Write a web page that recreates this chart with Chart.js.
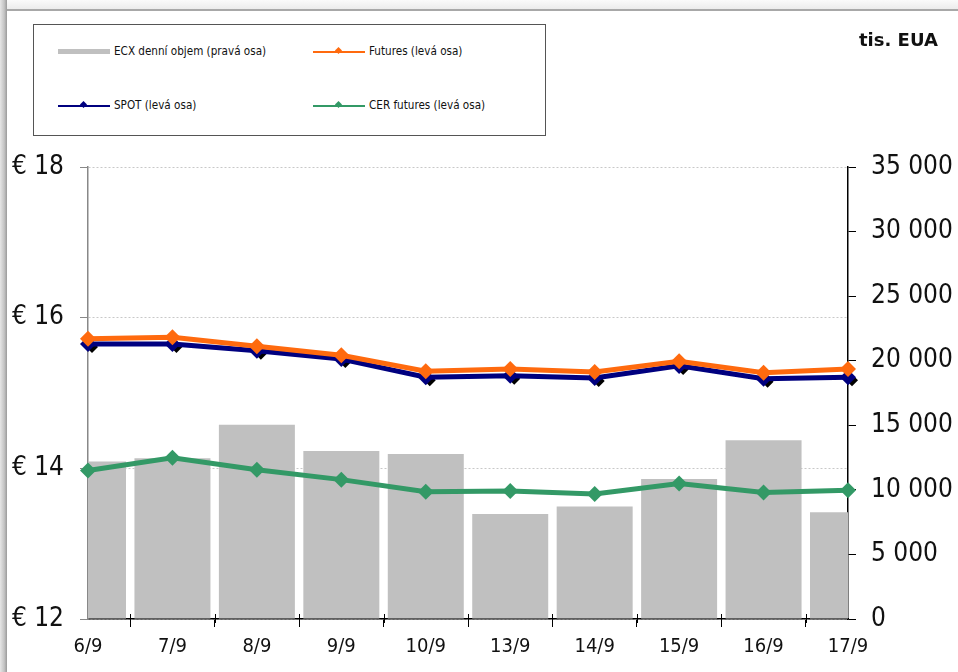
<!DOCTYPE html>
<html>
<head>
<meta charset="utf-8">
<script src="https://cdn.jsdelivr.net/npm/chart.js@4.4.0/dist/chart.umd.min.js"></script>
<style>
  html, body { margin: 0; padding: 0; background: #fff; }
  body { width: 958px; height: 672px; position: relative; overflow: hidden;
         font-family: "DejaVu Sans Condensed", "DejaVu Sans", sans-serif; }
  #frameL { position: absolute; left: 0; top: 0; width: 7px; height: 672px;
            background: linear-gradient(to right, #e6e6e6, #c4c4c4 60%, #9a9a9a); }
  #frameT { position: absolute; left: 0; top: 0; width: 958px; height: 9px;
            background: linear-gradient(to bottom, #fafafa, #ececec); border-bottom: 2px solid #a8a8a8; }
  #wrap { position: absolute; left: 0; top: 0; width: 958px; height: 672px; }
  #legend { position: absolute; left: 33px; top: 24px; width: 511px; height: 110px;
            border: 1px solid #555; background: #fff; font-size: 11.6px; color: #111; }
  .item { position: absolute; height: 14px; line-height: 14px; white-space: nowrap; }
  .sw { display: inline-block; width: 52px; vertical-align: middle; margin-right: 4px; position: relative; }
  .sw.bar { height: 5px; background: #c0c0c0; }
  .sw.line { height: 2px; }
  .sw.line i { position: absolute; left: 23px; top: -3px; width: 5px; height: 5px; transform: rotate(45deg); }
  #unit { position: absolute; left: 859px; top: 29px; font-weight: bold; font-size: 18px; color: #111;
          font-family: "DejaVu Sans", sans-serif; }
</style>
</head>
<body>
<div id="frameT"></div>
<div id="frameL"></div>
<div id="wrap"><canvas id="c" width="958" height="672"></canvas></div>
<div id="legend">
  <div class="item" style="left:24px;top:19px"><span class="sw bar"></span>ECX denní objem (pravá osa)</div>
  <div class="item" style="left:279px;top:19px"><span class="sw line" style="background:#ff6a0e"><i style="background:#ff6a0e"></i></span>Futures (levá osa)</div>
  <div class="item" style="left:24px;top:73px"><span class="sw line" style="background:#00007f"><i style="background:#00007f"></i></span>SPOT (levá osa)</div>
  <div class="item" style="left:279px;top:73px"><span class="sw line" style="background:#339966"><i style="background:#339966"></i></span>CER futures (levá osa)</div>
</div>
<div id="unit">tis. EUA</div>
<script>
// ---------- Data ----------
const days = ["6/9", "7/9", "8/9", "9/9", "10/9", "13/9", "14/9", "15/9", "16/9", "17/9"];
const ecxVolume = [12200, 12450, 15050, 13000, 12780, 8130, 8720, 10850, 13850, 8260];
const futures = [15.72, 15.74, 15.62, 15.50, 15.29, 15.32, 15.28, 15.42, 15.27, 15.32];
const spot = [15.65, 15.65, 15.56, 15.45, 15.21, 15.23, 15.20, 15.36, 15.19, 15.21];
const cerFutures = [13.97, 14.14, 13.98, 13.85, 13.69, 13.70, 13.66, 13.80, 13.68, 13.71];
const leftTicks = [12, 14, 16, 18];
const rightTicks = [0, 5000, 10000, 15000, 20000, 25000, 30000, 35000];

const FONT = "'DejaVu Sans Condensed', 'DejaVu Sans', sans-serif";

function fmtThousands(v) {
  return String(v).replace(/\B(?=(\d{3})+(?!\d))/g, " ");
}

// black diamonds peeking out behind the SPOT markers
const spotShadow = {
  id: "spotShadow",
  beforeDatasetDraw(chart, args) {
    if (chart.data.datasets[args.index].label !== "SPOT") return;
    const ctx = chart.ctx;
    ctx.save();
    ctx.fillStyle = "#000";
    args.meta.data.forEach((pt) => {
      const x = pt.x + 4, y = pt.y + 3, r = 6;
      ctx.beginPath();
      ctx.moveTo(x, y - r); ctx.lineTo(x + r, y); ctx.lineTo(x, y + r); ctx.lineTo(x - r, y);
      ctx.closePath();
      ctx.fill();
    });
    ctx.restore();
  },
};

// small ticks between categories on the x axis
const minorTicks = {
  id: "minorTicks",
  afterDraw(chart) {
    const x = chart.scales.x, ctx = chart.ctx, b = chart.chartArea.bottom;
    ctx.save();
    ctx.strokeStyle = "#000";
    ctx.lineWidth = 1;
    for (let i = 0; i < days.length - 1; i++) {
      const px = Math.round((x.getPixelForTick(i) + x.getPixelForTick(i + 1)) / 2) + 0.5;
      ctx.beginPath();
      ctx.moveTo(px, b - 5);
      ctx.lineTo(px, b + 4);
      ctx.stroke();
    }
    ctx.restore();
  },
};

const lineDs = (label, data, color, order) => ({
  type: "line",
  label,
  data,
  yAxisID: "y",
  borderColor: color,
  backgroundColor: color,
  borderWidth: 5,
  pointStyle: "rectRot",
  pointRadius: 8,
  pointHoverRadius: 8,
  pointBorderWidth: 0,
  tension: 0,
  clip: false,
  order,
});

new Chart(document.getElementById("c"), {
  data: {
    labels: days,
    datasets: [
      {
        type: "bar",
        label: "ECX denní objem (pravá osa)",
        data: ecxVolume,
        yAxisID: "y1",
        backgroundColor: "#c0c0c0",
        borderWidth: 0,
        categoryPercentage: 1,
        barPercentage: 0.9,
        clip: 0,
        order: 10,
      },
      lineDs("SPOT", spot, "#00007f", 3),
      lineDs("Futures", futures, "#ff6a0e", 2),
      lineDs("CER futures", cerFutures, "#339966", 1),
    ],
  },
  options: {
    responsive: false,
    animation: false,
    events: [],
    layout: { padding: { top: 167, left: 0, right: 0, bottom: 0 } },
    plugins: { legend: { display: false }, tooltip: { enabled: false } },
    scales: {
      x: {
        type: "category",
        offset: false,
        grid: { display: true, drawOnChartArea: false, color: "#000", tickLength: 8 },
        border: { color: "#000", width: 1.5 },
        ticks: { color: "#111", font: { family: FONT, size: 20 }, padding: 8, maxRotation: 0, autoSkip: false },
        afterFit(s) { s.height = 53; },
      },
      y: {
        position: "left",
        min: 12,
        max: 18,
        afterBuildTicks(s) { s.ticks = leftTicks.map((v) => ({ value: v })); },
        grid: { color: "#c8c8c8", tickColor: "#888", tickLength: 8, lineWidth: 1 },
        border: { color: "#888", width: 1.5, dash: [2, 2] },
        ticks: {
          color: "#111",
          font: { family: FONT, size: 26 },
          padding: 16,
          callback: (v) => "€ " + v,
        },
        afterFit(s) { s.width = 88; },
      },
      y1: {
        position: "right",
        min: 0,
        max: 35000,
        afterBuildTicks(s) { s.ticks = rightTicks.map((v) => ({ value: v })); },
        grid: { drawOnChartArea: false, color: "#000", tickLength: 8 },
        border: { color: "#000", width: 1.5 },
        ticks: {
          color: "#111",
          font: { family: FONT, size: 26 },
          padding: 15,
          callback: (v) => fmtThousands(v),
        },
        afterFit(s) { s.width = 110; },
      },
    },
  },
  plugins: [spotShadow, minorTicks],
});
</script>
</body>
</html>
